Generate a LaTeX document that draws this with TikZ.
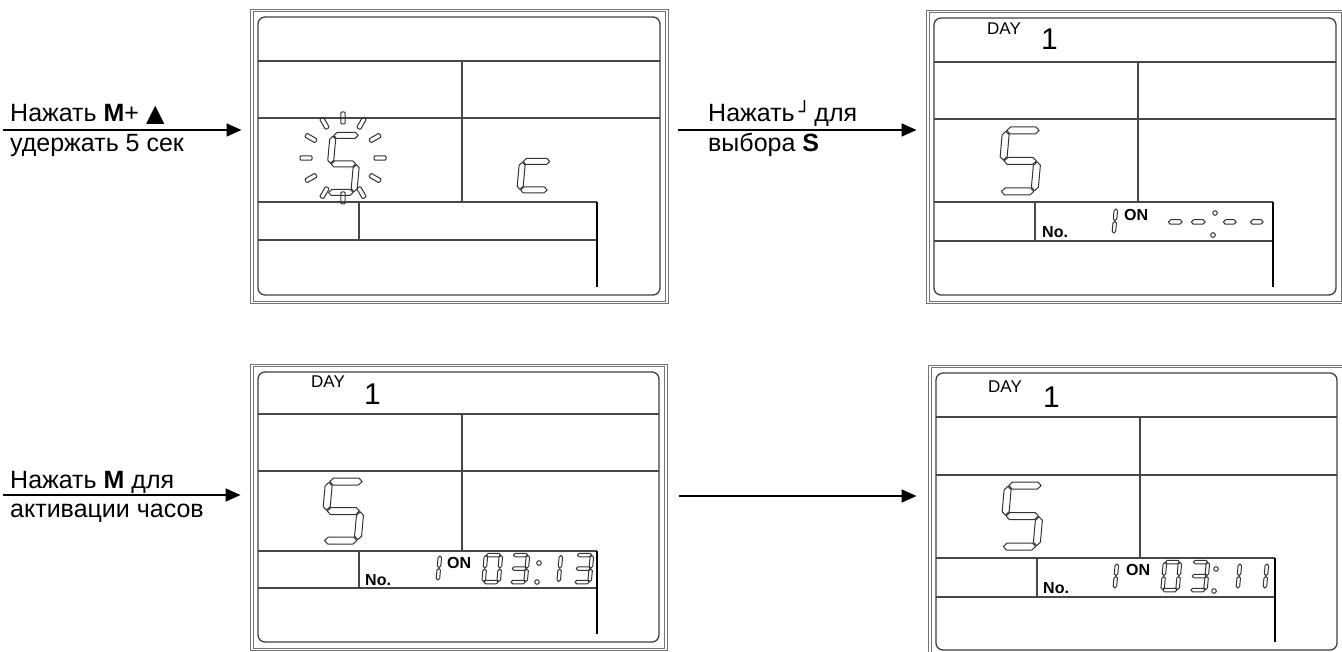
\documentclass[tikz,border=0pt]{standalone}
\usepackage{fontspec}
\setmainfont{Liberation Sans}
\newfontfamily\symfont{DejaVu Sans}
\usetikzlibrary{arrows.meta}
\tikzset{
  arr/.style={line width=1.8pt, -{Triangle[length=15pt,width=13pt]}},
  lbl/.style={anchor=base west, inner sep=0pt, font=\fontsize{25}{30}\selectfont},
  lcdframe/.style={draw=black!55, line width=0.9pt, double=white, double distance=1.6pt,
    inner sep=0pt, anchor=north west},
  lcdscreen/.style={draw=black!75, line width=1.3pt, rounded corners=7pt},
  lcdline/.style={draw=black!72, line width=1.3pt},
  lcdbar/.style={draw=black, line width=2.6pt},
  segline/.style={draw=black!80, line width=1pt, line join=round},
  dayf/.style={anchor=base west, inner sep=0pt, font=\fontsize{17}{17}\selectfont},
  onef/.style={anchor=base west, inner sep=0pt, font=\fontsize{30}{30}\selectfont},
  smallb/.style={anchor=base west, inner sep=0pt, font=\bfseries\fontsize{16}{16}\selectfont},
}
% panel: #1 name, #2 L, #3 T, #4 R, #5 B (inner screen), #6 H1, #7 H2, #8 H3, #9 H4
\newcommand\lcdpanel[9]{%
  \node[lcdframe, minimum width={#4-#2+13}, minimum height={#5-#3+14}] (#1) at (#2-6.5,#3-7) {};
  \draw[lcdscreen] (#2,#3) rectangle (#4,#5);
  \draw[lcdline] (#2,#6) -- (#4,#6) (#2,#7) -- (#4,#7) (#2+204,#6) -- (#2+204,#8)
    (#2,#8) -- (#2+339,#8) (#2,#9) -- (#2+339,#9) (#2+101,#8) -- (#2+101,#9);
  \draw[lcdbar] (#2+339,#8) -- (#2+339,#5-8);
}
\newcommand\hseg[3]{\draw[segline] (#1,#3) -- (#1+\dT/2,#3-\dT/2) -- (#2-\dT/2,#3-\dT/2) -- (#2,#3) -- (#2-\dT/2,#3+\dT/2) -- (#1+\dT/2,#3+\dT/2) -- cycle;}
\newcommand\vseg[3]{\draw[segline] (#1,#2) -- (#1+\dT/2,#2+\dT/2) -- (#1+\dT/2,#3-\dT/2) -- (#1,#3) -- (#1-\dT/2,#3-\dT/2) -- (#1-\dT/2,#2+\dT/2) -- cycle;}
% digit: #1 x, #2 y (top-left), #3 w, #4 h, #5 thickness, #6 segments
\newcommand\lcddigit[6]{%
  \begin{scope}[shift={(#1,#2)}, xslant=0.09]
    \pgfmathsetmacro\dW{#3}\pgfmathsetmacro\dH{#4}\pgfmathsetmacro\dT{#5}\pgfmathsetmacro\dG{#5*0.12}
    \foreach \sg in {#6}{%
      \if a\sg \hseg{\dG}{\dW-\dG}{0}\fi
      \if b\sg \vseg{\dW}{\dG}{\dH/2-\dG}\fi
      \if c\sg \vseg{\dW}{\dH/2+\dG}{\dH-\dG}\fi
      \if d\sg \hseg{\dG}{\dW-\dG}{\dH}\fi
      \if e\sg \vseg{0}{\dH/2+\dG}{\dH-\dG}\fi
      \if f\sg \vseg{0}{\dG}{\dH/2-\dG}\fi
      \if g\sg \hseg{\dG}{\dW-\dG}{\dH/2}\fi
    }
  \end{scope}}
\newcommand\lcddot[2]{\draw[segline] (#1,#2) circle (2.3);}
\begin{document}
\begin{tikzpicture}[x=1pt,y=-1pt]
\path[use as bounding box, fill=white] (0,0) rectangle (1342,652);

% ---------- panels ----------
\lcdpanel{p1}{258}{17}{660}{295}{61}{118}{202}{240}
\lcdpanel{p2}{934}{18}{1336}{295}{62}{119}{202}{241}
\lcdpanel{p3}{258}{372}{659}{642}{414}{471}{551}{588}
\lcdpanel{p4}{936}{373}{1337}{650}{417}{475}{558}{597}

% ---------- panel 1: flashing S and c ----------
\lcddigit{333}{135.5}{26}{57}{6}{a,f,g,c,d}
\foreach \a in {0,30,...,330}
  \draw[segline, shift={({343+37*cos(\a)},{158-40*sin(\a)})}, rotate=\a, rounded corners=1pt]
    (-6,-2.2) rectangle (6,2.2);
\lcddigit{525}{133}{28}{57}{6}{g,e,d}

% ---------- panel 2 ----------
\node[dayf] (day2) at (987,35) {DAY};
\node[onef] (one2) at (1041,50) {1};
\lcddigit{1006}{130.5}{34}{61}{7}{a,f,g,c,d}
\node[smallb] (no2) at (1042,238) {No.};
\lcddigit{1101}{208.5}{15}{25}{3.5}{b,c}
\node[smallb] (on2) at (1124,221) {ON};
\lcddigit{1169}{208}{15}{28}{4.5}{g}
\lcddigit{1192}{208}{15}{28}{4.5}{g}
\lcddot{1215}{213}
\lcddot{1213}{235}
\lcddigit{1224}{208}{14}{28}{4.5}{g}
\lcddigit{1251}{208}{14}{28}{4.5}{g}

% ---------- panel 3 ----------
\node[dayf] (day3) at (311,388) {DAY};
\node[onef] (one3) at (364,404) {1};
\lcddigit{329}{481.5}{34}{59}{7}{a,f,g,c,d}
\node[smallb] (no3) at (365,585) {No.};
\lcddigit{425}{555.5}{15}{25}{3.5}{b,c}
\node[smallb] (on3) at (447,568) {ON};
\lcddigit{486}{555}{15}{27}{3.5}{a,b,c,d,e,f}
\lcddigit{513}{555}{15}{27}{3.5}{a,b,c,d,g}
\lcddot{539}{563}
\lcddot{537}{582}
\lcddigit{546}{555}{15}{27}{3.5}{b,c}
\lcddigit{577}{555}{15}{27}{3.5}{a,b,c,d,g}

% ---------- panel 4 ----------
\node[dayf] (day4) at (988,392) {DAY};
\node[onef] (one4) at (1043,407) {1};
\lcddigit{1008}{485.5}{34}{61}{7}{a,f,g,c,d}
\node[smallb] (no4) at (1043,593) {No.};
\lcddigit{1102}{563.5}{15}{25}{3.5}{b,c}
\node[smallb] (on4) at (1126,575) {ON};
\lcddigit{1165}{562}{15}{28}{3.5}{a,b,c,d,e,f}
\lcddigit{1193}{562}{15}{28}{3.5}{a,b,c,d,g}
\lcddot{1216}{569}
\lcddot{1214}{591}
\lcddigit{1225}{563.5}{15}{25}{3.5}{b,c}
\lcddigit{1252}{563.5}{15}{25}{3.5}{b,c}

% ---------- arrows ----------
\coordinate (s1) at (3,130);
\coordinate (y2) at (0,130);
\coordinate (s3) at (3,495);
\coordinate (y4) at (0,496);
\draw[arr, shorten >=10pt] (s1) -- (s1 -| p1.west);
\draw[arr, shorten <=11pt, shorten >=11pt] (y2 -| p1.east) -- (y2 -| p2.west);
\draw[arr, shorten >=11pt] (s3) -- (s3 -| p3.west);
\draw[arr, shorten <=13pt, shorten >=13pt] (y4 -| p3.east) -- (y4 -| p4.west);

% ---------- labels ----------
\node[lbl] (t1a) at (10,122) {Нажать \textbf{M}+ {\symfont\fontsize{24}{24}\selectfont ▲}};
\node[lbl] (t1b) at (10,152) {удержать 5 сек};
\node[lbl] (t2a) at (708,122) {Нажать\,{\symfont\fontsize{19}{19}\selectfont\raisebox{3pt}{┘}}\,для};
\node[lbl] (t2b) at (708,152) {выбора \textbf{S}};
\node[lbl] (t3a) at (10,488) {Нажать \textbf{M} для};
\node[lbl] (t3b) at (10,517) {активации часов};
\end{tikzpicture}
\end{document}
